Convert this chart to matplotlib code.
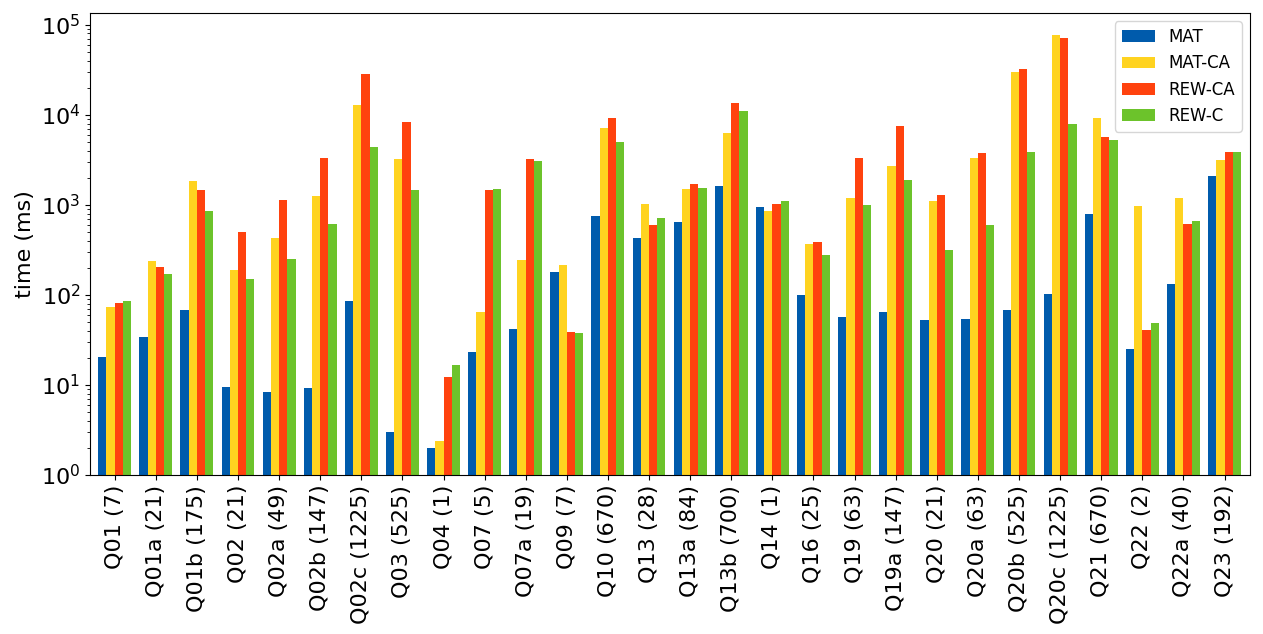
import numpy as np
import matplotlib
matplotlib.use('Agg')
import matplotlib.pyplot as plt

queries = ['Q01 (7)', 'Q01a (21)', 'Q01b (175)', 'Q02 (21)', 'Q02a (49)', 'Q02b (147)',
           'Q02c (1225)', 'Q03 (525)', 'Q04 (1)', 'Q07 (5)', 'Q07a (19)', 'Q09 (7)',
           'Q10 (670)', 'Q13 (28)', 'Q13a (84)', 'Q13b (700)', 'Q14 (1)', 'Q16 (25)',
           'Q19 (63)', 'Q19a (147)', 'Q20 (21)', 'Q20a (63)', 'Q20b (525)', 'Q20c (1225)',
           'Q21 (670)', 'Q22 (2)', 'Q22a (40)', 'Q23 (192)']

mat = [20.6, 34, 68, 9.5, 8.4, 9.3, 86, 3.0, 2.0, 23.3, 42, 180,
       755, 430, 647, 1625, 950, 100, 57, 65, 53, 54, 68, 103,
       794, 25, 132, 2100]
mat_ca = [74, 239, 1850, 190, 430, 1260, 12900, 3245, 2.4, 65, 245, 215,
          7180, 1025, 1507, 6310, 857, 369, 1196, 2712, 1107, 3330, 30060, 77400,
          9260, 975, 1196, 3160]
rew_ca = [81, 205, 1470, 501, 1136, 3330, 28500, 8360, 12.3, 1470, 3245, 38.8,
          9260, 600, 1710, 13600, 1025, 388, 3330, 7550, 1291, 3784, 32450, 71800,
          5700, 40.8, 615, 3880]
rew_c = [86, 171, 857, 151, 251, 615, 4400, 1470, 16.7, 1507, 3083, 37.8,
         5010, 718, 1545, 11070, 1107, 278, 1000, 1896, 316, 600, 3880, 7940,
         5270, 48.9, 664, 3880]

series = [('MAT', mat, '#005BAC'),
          ('MAT-CA', mat_ca, '#FFD320'),
          ('REW-CA', rew_ca, '#FF420E'),
          ('REW-C', rew_c, '#6CC32B')]

fig = plt.figure(figsize=(12.63, 6.34), dpi=100)
ax = fig.add_axes([90 / 1263, 1 - 475 / 634, 1160 / 1263, 462 / 634])

x = np.arange(len(queries))
w = 0.2
for i, (name, vals, col) in enumerate(series):
    ax.bar(x + (i - 1.5) * w, vals, w, color=col, label=name)

ax.set_yscale('log')
ax.set_ylim(1, 1.35e5)
ax.set_xlim(-0.6, 27.62)
ax.set_xticks(x)
ax.set_xticklabels(queries, rotation=90, fontsize=16)
ax.tick_params(axis='y', labelsize=16)
ax.set_ylabel('time (ms)', fontsize=16)
ax.legend(loc='upper right', fontsize=12)

fig.savefig('out.png', dpi=100)
